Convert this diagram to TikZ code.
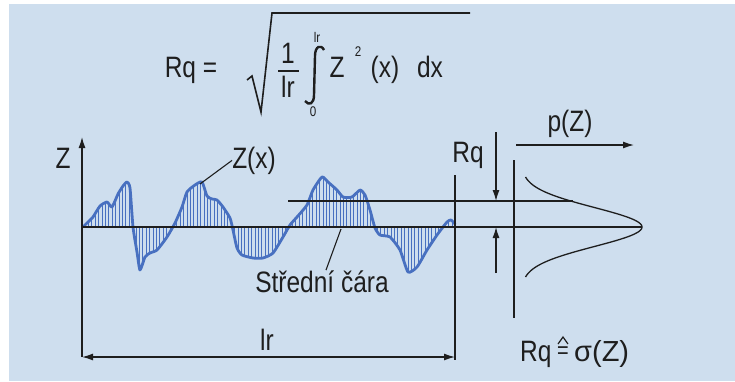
\documentclass[tikz,border=0pt]{standalone}
\usepackage{fontspec}
\setmainfont[FakeStretch=0.83]{Liberation Sans}
\newfontfamily\widefont{Liberation Sans}
\usetikzlibrary{arrows.meta}
\definecolor{bgblue}{RGB}{206,222,238}
\definecolor{profblue}{RGB}{72,112,192}
\definecolor{ink}{RGB}{30,30,30}
\begin{document}
\begin{tikzpicture}[x=1pt,y=-1pt,
 every node/.style={inner sep=0pt, text=ink, font=\fontsize{29.5}{32}\selectfont},
 small/.style={font=\fontsize{14}{16}\selectfont},
 blk/.style={draw=ink, line width=1.3pt},
 meanl/.style={draw=ink, line width=2pt},
 tip/.style={-{Latex[length=11pt,width=7pt]}},
 tips/.style={{Latex[length=11pt,width=7pt]}-{Latex[length=11pt,width=7pt]}},
 profile/.style={draw=profblue, line width=2.8pt, line join=round, line cap=round},
 hatch/.style={draw=profblue, line width=1pt},
 leader/.style={draw=ink, line width=1.1pt},
 gauss/.style={draw=ink, line width=1.3pt}]
\useasboundingbox (0,0) rectangle (735,381);
\fill[bgblue] (9,4) rectangle (735,381);

% ---------- formula ----------
\node[anchor=base] (rqeq) at (191,77) {Rq =};
\coordinate (r0) at (247,80);
\coordinate (r1) at (252,76);
\coordinate (r2) at (261,112);
\coordinate (r3) at (272,13);
\coordinate (r4) at (470,13);
\draw[blk, line width=1.6pt, line join=miter] (r0) -- (r1) -- (r2) -- (r3) -- (r4);
\node[anchor=base] (one) at (288,63) {1};
\node[anchor=base] (lrf) at (288,97) {lr};
\coordinate (fb0) at (278,71);
\coordinate (fb1) at (299,71);
\draw[blk] (fb0) -- (fb1);
\coordinate (i0) at (324,50);
\coordinate (i1) at (315,56);
\coordinate (i2) at (314,95);
\coordinate (i3) at (305,101);
\draw[ink, line width=2.4pt] (i0) .. controls (321,44) and (315,46) .. (i1) -- (i2) .. controls (314,104) and (309,106) .. (i3);
\node[small, anchor=base] (upl) at (317,42) {lr};
\node[small, anchor=base] (lol) at (313,116) {0};
\node[anchor=base] (zf) at (337,77) {Z};
\node[small, anchor=base] (sq) at (358,56) {2};
\node[anchor=base] (xf) at (385,77) {(x)};
\node[anchor=base] (dx) at (430,77) {dx};

% ---------- profile ----------
\def\prof{(83,227) (88,222) (93,217) (100,206) (107,202) (112,207) (118,194) (123,186) (127,182) (130,188) (133,227) (137,252) (140,270) (145,257) (150,253) (157,250) (167,237) (175,223) (182,207) (187,192) (195,185) (202,182) (207,196) (212,199) (217,200) (223,207) (230,218) (233,230) (237,248) (242,255) (253,258) (263,258) (273,253) (283,237) (290,225) (297,217) (307,205) (313,190) (322,177) (328,182) (337,190) (343,197) (352,197) (360,190) (365,195) (370,210) (375,228) (380,235) (390,237) (400,250) (408,272) (417,267) (427,250) (437,235) (447,222) (451,220) (455,224)}
\begin{scope}
\clip plot[smooth, tension=0.35] coordinates {\prof} -- (455,227) -- (83,227) -- cycle;
\foreach \x in {85,88.4,...,455} \draw[hatch] (\x,160) -- (\x,290);
\end{scope}
\draw[profile] plot[smooth, tension=0.35] coordinates {\prof};

% ---------- lines ----------
\coordinate (axB) at (82,357);
\coordinate (axT) at (82,137);
\draw[blk, tip] (axB) -- (axT);
\coordinate (m0) at (82,227);
\coordinate (m1) at (642,227);
\draw[meanl] (m0) -- (m1);
\coordinate (u0) at (288,201);
\coordinate (u1) at (573,201);
\draw[blk] (u0) -- (u1);
\coordinate (v1T) at (455,175);
\coordinate (v1B) at (455,360);
\draw[blk] (v1T) -- (v1B);
\coordinate (v2T) at (514,160);
\coordinate (v2B) at (514,318);
\draw[blk] (v2T) -- (v2B);
\coordinate (rqT) at (496,132);
\coordinate (rqU) at (496,201);
\coordinate (rqL) at (496,227);
\coordinate (rqB) at (496,273);
\draw[blk, tip] (rqT) -- (rqU);
\draw[blk, tip] (rqB) -- (rqL);
\coordinate (pz0) at (516,145);
\coordinate (pz1) at (634,145);
\draw[blk, tip] (pz0) -- (pz1);
\coordinate (d0) at (82,357);
\coordinate (d1) at (455,357);
\draw[blk, tips] (d0) -- (d1);

% gaussian
\draw[gauss] plot[domain=-50:50, samples=80, smooth] ({521+121*exp(-(\x)*(\x)/760)}, {227+\x});

% ---------- labels ----------
\node[anchor=base] (zl) at (63,168) {Z};
\node[anchor=base] (zx) at (254,168) {Z(x)};
\coordinate (zxp) at (200,184);
\draw[leader] (zxp) -- (zx.west);
\node[anchor=base] (rql) at (468,162) {Rq};
\node[anchor=base] (pzl) at (570,131) {p(Z)};
\node[anchor=base] (sc) at (322,292) {Střední čára};
\coordinate (scp) at (341,229);
\draw[leader] (scp) -- ([xshift=4pt]sc.north);
\node[anchor=base] (lrl) at (267,350) {lr};
\node[anchor=base west] (rqr) at (520,361) {Rq};
\node[anchor=base] (eqs) at (563,358) {\fontsize{24}{24}\selectfont =};
\coordinate (h0) at (558,344);
\coordinate (h1) at (563,337);
\coordinate (h2) at (568,344);
\draw[ink, line width=1.2pt] (h0) -- (h1) -- (h2);
\node[anchor=base west] (sig) at (574,361) {\widefont\fontsize{29}{31}\selectfont σ(Z)};
\end{tikzpicture}
\end{document}
